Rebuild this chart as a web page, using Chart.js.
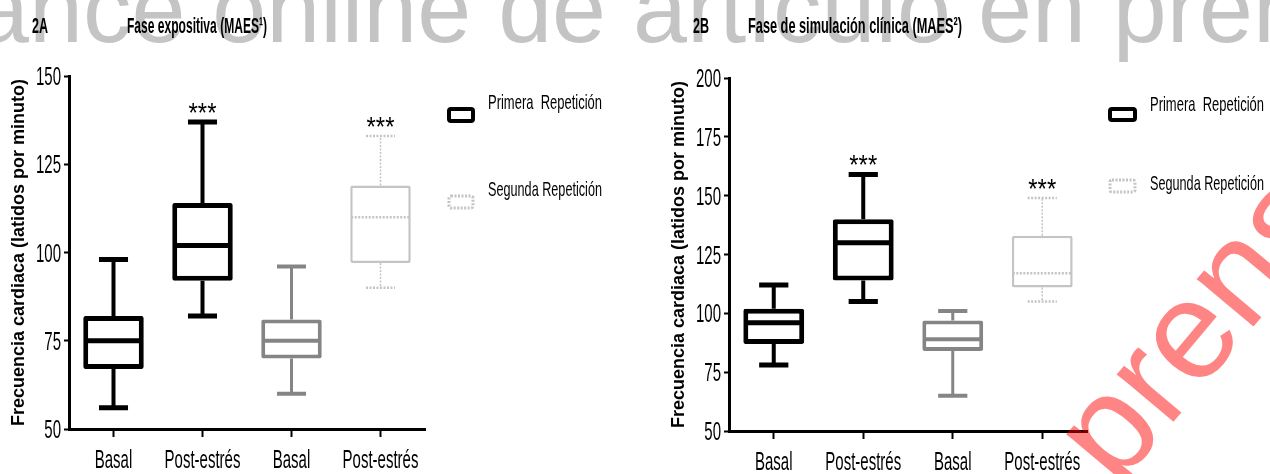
<!DOCTYPE html>
<html>
<head>
<meta charset="utf-8">
<script src="https://cdn.jsdelivr.net/npm/chart.js@4.4.1/dist/chart.umd.min.js"></script>
<style>
  html, body { margin: 0; padding: 0; background: #fff; }
  body { width: 1270px; height: 474px; position: relative; overflow: hidden; }
  .panel { position: absolute; top: 0; height: 474px; }
  #panelA { left: 0; width: 640px; }
  #panelB { left: 640px; width: 630px; }
</style>
</head>
<body>
<div class="panel" id="panelA"><canvas id="chartA"></canvas></div>
<div class="panel" id="panelB"><canvas id="chartB"></canvas></div>
<script>
const categories = ['Basal', 'Post-estrés', 'Basal', 'Post-estrés'];
const seriesNames = ['Primera  Repetición', 'Segunda Repetición'];
const signif = ['', '***', '', '***'];

// 2A - fase expositiva
const aMin = [56, 82, 60, 90];
const aQ1  = [67, 92, 70, 97];
const aMed = [75, 102, 75, 110];
const aQ3  = [82, 114, 81, 119];
const aMax = [98, 137, 96, 133];
const aTicks = [50, 75, 100, 125, 150];

// 2B - fase de simulacion clinica
const bMin = [78, 105, 65, 105];
const bQ1  = [87, 114, 84, 111];
const bMed = [96, 130, 89, 117];
const bQ3  = [102, 140, 97, 133];
const bMax = [112, 159, 101, 149];
const bTicks = [50, 75, 100, 125, 150, 175, 200];

const bannerText = 'ance online de artículo en prensa';
const stampText = 'en prensa';

const boxColors = ['#000000', '#000000', '#858585', '#c4c4c4'];
const boxLines = [5, 5, 4, 2.5];
const NARROW = "'Liberation Sans Narrow', 'Arial Narrow', 'Liberation Sans', sans-serif";
const SANS = "'Liberation Sans', Arial, sans-serif";

// the original uses a very condensed face, so squeeze the glyphs sideways
function narrowText(ctx, text, x, y, align, squeeze) {
    ctx.save();
    ctx.translate(x, y);
    ctx.scale(squeeze, 1);
    ctx.textAlign = align;
    ctx.fillText(text, 0, 0);
    ctx.restore();
}

const whiskerPlugin = {
    id: 'whiskers',
    afterDatasetsDraw(chart, args, o) {
        const ctx = chart.ctx;
        const y = chart.scales.y;
        chart.getDatasetMeta(0).data.forEach((bar, i) => {
            const half = bar.width / 2;
            const cap = half * 0.48;
            const top = y.getPixelForValue(o.max[i]);
            const q3 = y.getPixelForValue(o.q3[i]);
            const med = y.getPixelForValue(o.med[i]);
            const q1 = y.getPixelForValue(o.q1[i]);
            const bot = y.getPixelForValue(o.min[i]);
            ctx.save();
            ctx.strokeStyle = boxColors[i];
            if (i === 3) ctx.setLineDash([2, 1.5]);
            ctx.lineWidth = boxLines[i] - 1;
            ctx.beginPath();
            ctx.moveTo(bar.x, q3); ctx.lineTo(bar.x, top);
            ctx.moveTo(bar.x, q1); ctx.lineTo(bar.x, bot);
            ctx.stroke();
            ctx.lineWidth = boxLines[i];
            ctx.beginPath();
            ctx.moveTo(bar.x - cap, top); ctx.lineTo(bar.x + cap, top);
            ctx.moveTo(bar.x - cap, bot); ctx.lineTo(bar.x + cap, bot);
            ctx.moveTo(bar.x - half + 1, med); ctx.lineTo(bar.x + half - 1, med);
            ctx.stroke();
            if (o.marks[i]) {
                ctx.fillStyle = '#000';
                ctx.font = '28px ' + SANS;
                ctx.textAlign = 'center';
                ctx.textBaseline = 'alphabetic';
                ctx.fillText(o.marks[i], bar.x, top, 28);
            }
            ctx.restore();
        });
    }
};

const tickPlugin = {
    id: 'narrowTicks',
    afterDraw(chart) {
        const ctx = chart.ctx;
        const { x, y } = chart.scales;
        ctx.save();
        ctx.fillStyle = '#000';
        ctx.font = '25px ' + SANS;
        ctx.textBaseline = 'alphabetic';
        y.ticks.forEach((t, i) => {
            narrowText(ctx, String(t.value), y.right - 8, y.getPixelForTick(i) + 9, 'right', 0.6);
        });
        x.ticks.forEach((t, i) => {
            narrowText(ctx, categories[t.value], x.getPixelForTick(i), x.top + 39, 'center', 0.6);
        });
        ctx.restore();
    }
};

const decorPlugin = {
    id: 'decor',
    beforeDraw(chart, args, o) {
        const ctx = chart.ctx;
        ctx.save();
        ctx.fillStyle = '#c4c4c4';
        ctx.font = '97px ' + SANS;
        ctx.textBaseline = 'alphabetic';
        ctx.fillText(bannerText, -25 - o.offsetX, 42);
        ctx.restore();
    },
    afterDraw(chart, args, o) {
        const ctx = chart.ctx;
        ctx.save();
        ctx.fillStyle = '#000';
        ctx.textBaseline = 'middle';
        ctx.font = 'bold 22px ' + NARROW;
        ctx.fillText(o.tag, o.tagX, 27, 16);
        ctx.fillText(o.title, o.titleX, 27, o.titleW);

        // legend
        ctx.font = '21px ' + NARROW;
        seriesNames.forEach((name, k) => {
            const ic = o.icons[k];
            ctx.fillStyle = '#000';
            ctx.fillText(name, o.legendX, o.textY[k], 114);
            ctx.strokeStyle = k === 0 ? '#000' : '#c4c4c4';
            ctx.lineWidth = k === 0 ? 4 : 3;
            ctx.setLineDash(k === 0 ? [] : [2, 1.5]);
            ctx.beginPath();
            ctx.roundRect(ic[0] + 2, ic[1] + 2, ic[2] - 4, ic[3] - 4, 2);
            ctx.stroke();
        });
        ctx.setLineDash([]);

        // red stamp
        ctx.translate(992 - o.offsetX, 638);
        ctx.rotate(-50 * Math.PI / 180);
        ctx.fillStyle = 'rgba(255, 0, 0, 0.48)';
        ctx.font = '140px ' + SANS;
        ctx.textBaseline = 'alphabetic';
        ctx.fillText(stampText, 0, 0);
        ctx.restore();
    }
};

function makePanel(id, d) {
    return new Chart(document.getElementById(id), {
        type: 'bar',
        data: {
            labels: categories,
            datasets: [{
                data: categories.map((c, i) => [d.q1[i], d.q3[i]]),
                backgroundColor: '#ffffff',
                borderColor: boxColors,
                borderWidth: boxLines,
                borderSkipped: false,
                borderRadius: 2,
                barPercentage: 0.68,
                categoryPercentage: 1
            }]
        },
        options: {
            responsive: true,
            maintainAspectRatio: false,
            animation: false,
            devicePixelRatio: 1,
            layout: { padding: d.padding },
            scales: {
                x: {
                    offset: true,
                    grid: { offset: false, drawOnChartArea: false, tickLength: 8, tickColor: '#000', tickWidth: 2 },
                    border: { color: '#000', width: 3 },
                    ticks: { display: false, autoSkip: false },
                    afterFit: s => { s.height = d.xHeight; }
                },
                y: {
                    min: d.ticks[0],
                    max: d.ticks[d.ticks.length - 1],
                    afterBuildTicks: s => { s.ticks = d.ticks.map(v => ({ value: v })); },
                    grid: { drawOnChartArea: false, tickLength: 5, tickColor: '#000', tickWidth: 2 },
                    border: { color: '#000', width: 3 },
                    ticks: { display: false },
                    title: {
                        display: true,
                        text: 'Frecuencia cardiaca (latidos por minuto)',
                        color: '#000',
                        font: { family: SANS, size: 18, weight: 'bold' },
                        padding: { top: 8, bottom: 0 }
                    },
                    afterFit: s => { s.width = 69; }
                }
            },
            plugins: {
                legend: { display: false },
                tooltip: { enabled: false },
                whiskers: { min: d.min, q1: d.q1, med: d.med, q3: d.q3, max: d.max, marks: signif },
                decor: d.decor
            }
        },
        plugins: [whiskerPlugin, tickPlugin, decorPlugin]
    });
}

makePanel('chartA', {
    min: aMin, q1: aQ1, med: aMed, q3: aQ3, max: aMax, ticks: aTicks,
    padding: { top: 76, right: 215, bottom: 0, left: 0 },
    xHeight: 45,
    decor: {
        offsetX: 0, tag: '2A', tagX: 32, title: 'Fase expositiva (MAES¹)', titleX: 127, titleW: 140,
        legendX: 488, textY: [103, 190],
        icons: [[447, 107, 28, 16], [447, 194, 28, 16]]
    }
});

makePanel('chartB', {
    min: bMin, q1: bQ1, med: bMed, q3: bQ3, max: bMax, ticks: bTicks,
    padding: { top: 78, right: 183, bottom: 0, left: 20 },
    xHeight: 43,
    decor: {
        offsetX: 640, tag: '2B', tagX: 53, title: 'Fase de simulación clínica (MAES²)', titleX: 108, titleW: 214,
        legendX: 510, textY: [105, 184],
        icons: [[468, 107, 29, 15], [468, 178, 29, 16]]
    }
});
</script>
</body>
</html>
